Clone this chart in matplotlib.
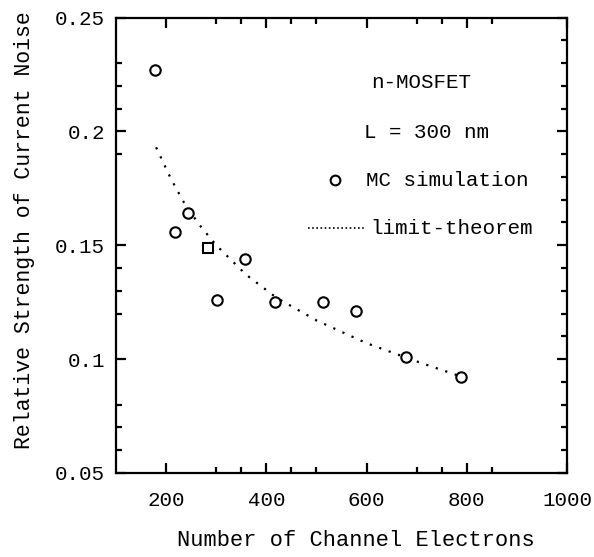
import matplotlib
matplotlib.use("Agg")
import matplotlib.pyplot as plt
from matplotlib.ticker import FixedLocator, NullFormatter

# Monte Carlo results: number of channel electrons vs. relative noise strength
mc_electrons = [177, 217, 243, 301, 358, 417, 513, 579, 679, 789]
mc_strength = [0.227, 0.156, 0.164, 0.126, 0.144, 0.125, 0.125, 0.121, 0.101, 0.092]

# One sample drawn with a square symbol
sq_electrons = [283]
sq_strength = [0.149]

# Limit-theorem prediction
lt_electrons = [180, 210, 240, 270, 300, 360, 420, 500, 600, 700, 780]
lt_strength = [0.193, 0.179, 0.167, 0.158, 0.150, 0.137, 0.127, 0.117, 0.107, 0.099, 0.093]

x_major = [200, 400, 600, 800, 1000]
x_minor = [300, 350, 450, 500, 700, 750, 850]
y_major = [0.05, 0.1, 0.15, 0.2, 0.25]
y_major_labels = ["0.05", "0.1", "0.15", "0.2", "0.25"]
y_minor_left = [0.06, 0.07, 0.08, 0.12, 0.13, 0.14, 0.19, 0.21, 0.22, 0.23]
y_minor_right = [0.06, 0.07, 0.08, 0.09, 0.11, 0.12, 0.13, 0.14,
                 0.16, 0.17, 0.18, 0.19, 0.21, 0.22, 0.23, 0.24]

FONT = "Liberation Mono"
plt.rcParams["font.family"] = [FONT, "DejaVu Sans Mono"]
TICK_FS = 15
XLABEL_FS = 15.8
YLABEL_FS = 15.5
NOTE_FS = 15

W, H = 594, 557
fig = plt.figure(figsize=(W / 100, H / 100), dpi=100)
ax = fig.add_axes([116 / W, 1 - 473 / H, (567 - 116) / W, (473 - 17.5) / H])

ax.plot(lt_electrons, lt_strength, linestyle=(0, (1, 3.5)), color="black", lw=1.6)
ax.plot(mc_electrons, mc_strength, linestyle="none", marker="o", ms=7.5,
        mfc="white", mec="black", mew=1.5)
ax.plot(sq_electrons, sq_strength, linestyle="none", marker="s", ms=7,
        mfc="white", mec="black", mew=1.5)

ax.set_xlim(100, 1000)
ax.set_ylim(0.05, 0.25)

for s in ax.spines.values():
    s.set_linewidth(1.6)

ax.xaxis.set_major_locator(FixedLocator(x_major))
ax.xaxis.set_minor_locator(FixedLocator(x_minor))
ax.yaxis.set_major_locator(FixedLocator(y_major))
ax.yaxis.set_minor_locator(FixedLocator(y_minor_left))
ax.set_yticklabels(y_major_labels)
ax.xaxis.set_minor_formatter(NullFormatter())

ax.tick_params(which="both", direction="in", top=True, right=False,
               width=1.6, labelsize=TICK_FS)
ax.tick_params(which="major", length=7)
ax.tick_params(which="minor", length=4)
ax.tick_params(axis="x", which="major", pad=13)
ax.tick_params(axis="y", which="major", pad=8)

# right-hand axis carries the full set of minor ticks
ax_r = ax.twinx()
ax_r.set_ylim(ax.get_ylim())
ax_r.yaxis.set_major_locator(FixedLocator(y_major))
ax_r.yaxis.set_minor_locator(FixedLocator(y_minor_right))
ax_r.tick_params(which="both", direction="in", width=1.6, labelright=False)
ax_r.tick_params(which="major", length=7)
ax_r.tick_params(which="minor", length=4)
for s in ax_r.spines.values():
    s.set_visible(False)

fig.text(356 / W, 1 - 540 / H, "Number of Channel Electrons",
         ha="center", va="center", fontsize=XLABEL_FS)
fig.text(25 / W, 1 - 449 / H, "Relative Strength of Current Noise",
         rotation=90, ha="center", va="bottom", fontsize=YLABEL_FS)


def frac_y(py):
    return 1 - (py - 17.5) / (473 - 17.5)


def frac_x(px):
    return (px - 116) / (567 - 116)


# annotation block
ax.text(frac_x(421), frac_y(82), "n-MOSFET", transform=ax.transAxes,
        ha="center", va="center", fontsize=NOTE_FS)
ax.text(frac_x(426), frac_y(133), "L = 300 nm", transform=ax.transAxes,
        ha="center", va="center", fontsize=NOTE_FS)
ax.plot([frac_x(335)], [frac_y(180)], transform=ax.transAxes, marker="o",
        ms=7, mfc="white", mec="black", mew=1.5, linestyle="none")
ax.text(frac_x(366), frac_y(180), "MC simulation", transform=ax.transAxes,
        ha="left", va="center", fontsize=NOTE_FS)
ax.plot([frac_x(308), frac_x(365)], [frac_y(228), frac_y(228)],
        transform=ax.transAxes, color="black", lw=1.2,
        linestyle=(0, (1, 1.5)))
ax.text(frac_x(370), frac_y(228), "limit-theorem", transform=ax.transAxes,
        ha="left", va="center", fontsize=NOTE_FS)

fig.savefig("out.png", dpi=100)
